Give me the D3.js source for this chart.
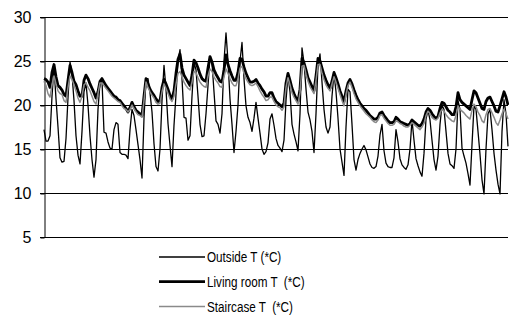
<!DOCTYPE html>
<html>
<head>
<meta charset="utf-8">
<script src="https://cdn.jsdelivr.net/npm/d3@7/dist/d3.min.js"></script>
<style>
  html, body { margin: 0; padding: 0; background: #fff; }
  text { font-family: "Liberation Sans", Arial, sans-serif; }
</style>
</head>
<body>
<svg id="chart" width="509" height="322"></svg>
<script>
// Temperature readings, one every few hours over about a month
const yTicks = [5, 10, 15, 20, 25, 30];
const seriesNames = ["Outside T (*C)", "Living room T  (*C)", "Staircase T  (*C)"];

const outsideT = [
  17.2, 15.9, 15.9, 16.5, 21.0, 24.3, 20.7, 17.5, 14.0, 13.5,
  13.6, 16.2, 20.8, 24.9, 23.5, 20.5, 16.5, 14.3, 13.3, 17.0,
  21.5, 22.5, 20.0, 16.5, 13.8, 11.8, 13.8, 19.5, 22.5, 22.8,
  16.9, 16.8, 15.8, 15.1, 15.0, 17.2, 18.0, 17.8, 14.6, 14.4,
  14.4, 14.3, 13.9, 17.2, 19.5, 18.8, 17.2, 15.5, 13.8, 11.7,
  18.5, 23.0, 23.0, 21.4, 19.2, 15.6, 13.0, 12.5, 15.0, 20.5,
  24.5, 21.8, 17.9, 15.4, 13.0, 17.7, 21.2, 25.0, 26.3, 23.0,
  18.6, 18.5, 16.0, 16.5, 21.0, 24.8, 24.0, 21.0, 17.8, 16.4,
  16.5, 19.0, 22.2, 25.5, 24.8, 21.5, 18.2, 17.8, 16.8, 19.0,
  25.0, 28.2, 25.0, 20.7, 17.8, 14.6, 17.0, 20.0, 25.0, 27.1,
  23.0, 19.9, 18.6, 18.0, 17.0, 18.5, 20.3, 18.5, 16.8, 15.0,
  14.4, 14.7, 15.7, 18.4, 19.0, 17.7, 16.2, 15.4, 15.1, 14.7,
  16.0, 20.5, 23.4, 21.5, 17.8, 16.7, 15.8, 14.8, 19.0, 26.5,
  24.8, 21.8, 19.2, 18.3, 17.0, 14.6, 19.0, 24.5, 25.8, 22.6,
  19.5, 17.5, 16.8, 17.5, 21.0, 23.6, 21.5, 18.5, 15.0, 13.5,
  12.0, 17.5, 21.8, 21.5, 17.8, 13.8, 12.6, 13.8, 14.5, 15.0,
  15.4, 14.9, 14.1, 13.3, 12.9, 12.8, 13.0, 14.2, 16.6, 17.8,
  14.8, 13.4, 13.0, 12.9, 12.9, 14.0, 17.2, 15.8, 13.9, 13.2,
  12.9, 12.7, 13.2, 15.0, 18.3, 16.0, 13.9, 13.1, 12.4, 11.9,
  14.5, 18.4, 19.4, 18.3, 16.0, 13.8, 12.6, 14.2, 17.8, 20.0,
  19.5, 17.0, 14.5, 13.3, 13.1, 12.8, 15.0, 20.5, 19.5, 15.1,
  14.2, 13.4, 12.2, 10.9, 15.5, 19.9, 19.5, 17.0, 14.4, 11.5,
  9.9, 15.0, 19.0, 19.5, 17.2, 14.5, 12.6, 11.0, 9.9, 17.0,
  20.6, 19.0, 15.3
];

const livingRoomT = [
  23.0, 22.9, 22.6, 22.0, 23.7, 24.6, 23.2, 22.2, 22.0, 21.7,
  21.2, 21.0, 22.8, 24.5, 23.7, 22.7, 22.3, 21.6, 21.0, 21.0,
  22.8, 23.4, 23.0, 22.4, 21.9, 21.4, 20.8, 21.5, 22.7, 23.0,
  22.6, 22.2, 21.9, 21.6, 21.3, 21.0, 20.9, 20.6, 20.5, 20.2,
  19.9, 19.6, 19.2, 19.7, 20.3, 19.8, 19.4, 19.2, 19.0, 18.8,
  21.0, 23.0, 22.4, 21.8, 21.4, 21.1, 20.7, 20.4, 20.5, 22.0,
  22.9, 22.4, 21.8, 21.1, 20.7, 21.6, 23.6, 25.2, 25.8, 24.2,
  23.4, 23.0, 22.6, 22.2, 23.4, 25.1, 24.8, 24.2, 23.5, 23.0,
  22.8, 22.7, 24.2, 25.5, 24.9, 24.0, 23.5, 23.1, 22.7, 22.6,
  24.0, 25.7, 24.6, 23.9, 23.3, 22.8, 22.8, 23.7, 25.3, 25.2,
  24.3, 23.6, 23.1, 22.6, 22.6, 22.7, 22.9, 22.5, 22.2, 21.8,
  21.5, 21.0, 21.0, 21.4, 21.4, 20.8, 20.4, 20.2, 20.0, 19.8,
  20.2, 22.5, 23.6, 22.8, 21.9, 21.3, 20.8, 20.4, 21.8, 25.3,
  24.8, 24.0, 23.1, 22.6, 22.1, 21.6, 23.3, 25.3, 25.0, 24.2,
  23.4, 22.8, 22.3, 21.9, 22.7, 23.7, 23.1, 22.4, 21.6, 21.0,
  20.4, 21.6, 22.5, 22.9, 22.4, 21.7, 21.1, 20.6, 20.2, 19.9,
  19.6, 19.4, 19.1, 18.8, 18.6, 18.4, 18.4, 18.6, 19.1, 19.2,
  18.8, 18.5, 18.2, 18.0, 18.0, 18.1, 18.6, 18.4, 18.1, 18.0,
  17.9, 17.8, 17.7, 17.9, 18.3, 18.1, 17.9, 17.7, 17.6, 17.9,
  18.4, 19.2, 19.6, 19.4, 19.0, 18.7, 18.5, 18.7, 19.6, 20.3,
  20.2, 19.8, 19.4, 19.2, 18.9, 18.9, 19.8, 21.4, 20.6, 20.3,
  20.1, 19.9, 19.7, 19.5, 20.6, 21.6, 21.4, 20.8, 20.2, 19.6,
  19.5, 20.4, 20.8, 20.9, 20.4, 19.9, 19.3, 19.2, 19.9, 20.7,
  21.5, 20.9, 20.0
];

const staircaseT = [
  22.7, 22.2, 21.3, 20.9, 22.3, 23.3, 22.4, 21.6, 21.3, 21.2,
  20.5, 20.3, 22.0, 23.3, 22.9, 22.3, 21.6, 20.8, 20.3, 21.0,
  22.3, 22.5, 22.0, 21.6, 21.0, 20.4, 20.1, 21.3, 22.5, 22.5,
  22.2, 21.9, 21.6, 21.3, 21.0, 20.8, 20.6, 20.4, 20.3, 19.9,
  19.6, 19.5, 19.2, 19.5, 20.0, 19.6, 19.2, 18.9, 18.8, 18.6,
  20.5, 22.6, 22.0, 21.5, 21.1, 20.8, 20.3, 20.1, 20.2, 21.5,
  22.4, 21.9, 21.3, 20.7, 20.4, 21.0, 22.4, 23.6, 23.8, 23.2,
  22.6, 22.2, 21.9, 21.7, 22.6, 23.8, 23.7, 23.1, 22.6, 22.3,
  22.1, 22.0, 23.3, 24.1, 23.8, 23.2, 22.8, 22.5, 22.1, 22.0,
  23.2, 24.1, 23.6, 23.0, 22.5, 22.2, 22.2, 23.0, 24.2, 24.4,
  23.6, 23.0, 22.6, 22.3, 22.2, 22.3, 22.5, 22.1, 21.6, 21.2,
  20.9, 20.5, 20.6, 20.9, 20.9, 20.4, 20.0, 19.8, 19.7, 19.4,
  19.8, 22.0, 23.1, 22.3, 21.4, 20.9, 20.5, 20.1, 21.4, 24.4,
  24.5, 23.5, 22.7, 22.1, 21.7, 21.3, 22.8, 24.6, 24.6, 23.6,
  22.9, 22.3, 21.9, 21.6, 22.4, 23.2, 22.6, 21.9, 21.2, 20.5,
  19.9, 21.2, 22.2, 22.6, 22.0, 21.3, 20.7, 20.3, 19.9, 19.6,
  19.3, 19.0, 18.8, 18.6, 18.3, 18.1, 18.0, 18.3, 18.8, 18.9,
  18.5, 18.2, 17.9, 17.7, 17.7, 17.8, 18.2, 18.1, 17.9, 17.8,
  17.6, 17.5, 17.5, 17.7, 18.0, 17.8, 17.6, 17.4, 17.2, 17.5,
  17.9, 18.8, 19.3, 19.0, 18.6, 18.4, 18.3, 18.5, 19.1, 19.5,
  19.3, 18.9, 18.6, 18.4, 18.2, 18.1, 18.8, 19.9, 19.5, 19.3,
  19.1, 18.8, 18.6, 18.4, 19.4, 20.1, 19.8, 19.2, 18.8, 18.2,
  18.0, 18.9, 19.5, 19.6, 19.1, 18.6, 18.0, 17.7, 18.3, 19.0,
  19.5, 19.0, 18.4
];

const series = [
  { name: seriesNames[0], values: outsideT,    color: "#000",    width: 1.3 },
  { name: seriesNames[1], values: livingRoomT, color: "#000",    width: 2.8 },
  { name: seriesNames[2], values: staircaseT,  color: "#8a8a8a", width: 1.5 }
];

const svg = d3.select("#chart");
const plot = { left: 44, right: 508, top: 17, bottom: 237 };

const x = d3.scaleLinear().domain([0, outsideT.length - 1]).range([plot.left, plot.right]);
const y = d3.scaleLinear().domain([5, 30]).range([plot.bottom, plot.top]);

// horizontal gridlines
svg.append("g")
  .selectAll("line")
  .data(yTicks)
  .join("line")
  .attr("x1", plot.left - 4)
  .attr("x2", plot.right)
  .attr("y1", d => Math.round(y(d)) + 0.5)
  .attr("y2", d => Math.round(y(d)) + 0.5)
  .attr("stroke", "#000")
  .attr("stroke-width", 1);

// value axis
const yAxis = d3.axisLeft(y).tickValues(yTicks).tickSize(4).tickSizeOuter(0).tickPadding(9);
const gy = svg.append("g").attr("transform", `translate(${plot.left + 0.5},0.5)`).call(yAxis);
gy.select(".domain").attr("stroke", "#000");
gy.selectAll("text").attr("font-size", 16).attr("fill", "#000")
  .attr("font-family", "Liberation Sans, Arial, sans-serif");

// series lines
const line = d3.line().x((d, i) => x(i)).y(d => y(d)).curve(d3.curveLinear);
svg.append("g")
  .selectAll("path")
  .data(series)
  .join("path")
  .attr("d", d => line(d.values))
  .attr("fill", "none")
  .attr("stroke", d => d.color)
  .attr("stroke-width", d => d.width)
  .attr("stroke-linejoin", "round");

// legend: sample line plus a narrow label per series
const legend = svg.append("g").attr("transform", "translate(159,257)");
const rows = legend.selectAll("g")
  .data(series)
  .join("g")
  .attr("transform", (d, i) => `translate(0,${i * 24.7})`);
rows.append("line")
  .attr("x1", 0).attr("x2", 46)
  .attr("stroke", d => d.color)
  .attr("stroke-width", d => d.width);
rows.append("g")
  .attr("transform", "translate(48,0) scale(0.78,1)")
  .append("text")
  .attr("dy", "0.35em")
  .attr("font-size", 15)
  .style("white-space", "pre")
  .text(d => d.name);
</script>
</body>
</html>
